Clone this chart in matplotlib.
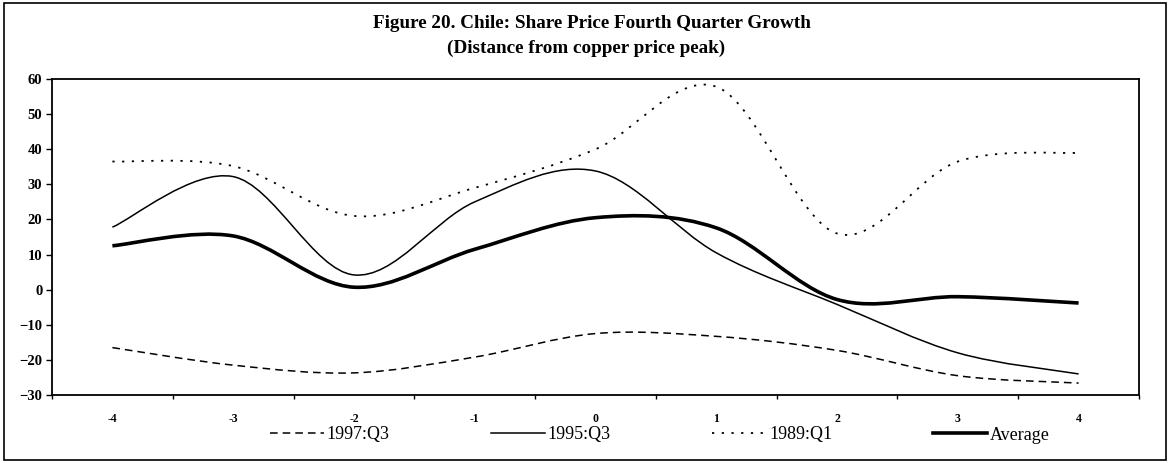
import numpy as np
import matplotlib
matplotlib.use("Agg")
import matplotlib.pyplot as plt
from matplotlib.path import Path
from matplotlib.patches import PathPatch, Rectangle
from matplotlib.lines import Line2D

plt.rcParams['font.family'] = ['Liberation Serif', 'DejaVu Serif']
plt.rcParams['lines.scale_dashes'] = False

# quarters from the copper price peak
quarters = [-4, -3, -2, -1, 0, 1, 2, 3, 4]

# share price fourth quarter growth (%)
q1997_3 = [-16.5, -21.5, -23.7, -19.2, -12.5, -13.3, -17.3, -24.5, -26.6]
q1995_3 = [17.8, 32.2, 4.2, 25.0, 33.8, 10.5, -4.2, -18.0, -24.0]
q1989_1 = [36.5, 35.2, 21.0, 29.0, 40.0, 57.8, 16.0, 36.5, 39.0]
average = [12.5, 15.3, 0.7, 11.5, 20.5, 17.6, -2.8, -2.0, -3.8]

labels = ['1997:Q3', '1995:Q3', '1989:Q1', 'Average']


def smooth_path(x, y):
    # Bezier segments like a spreadsheet "smoothed line"
    x = np.asarray(x, float)
    y = np.asarray(y, float)
    n = len(x)
    verts = [(x[0], y[0])]
    codes = [Path.MOVETO]
    for i in range(n - 1):
        i0 = max(i - 1, 0)
        i3 = min(i + 2, n - 1)
        c1 = (x[i] + (x[i + 1] - x[i0]) / 6, y[i] + (y[i + 1] - y[i0]) / 6)
        c2 = (x[i + 1] - (x[i3] - x[i]) / 6, y[i + 1] - (y[i3] - y[i]) / 6)
        verts += [c1, c2, (x[i + 1], y[i + 1])]
        codes += [Path.CURVE4] * 3
    return Path(verts, codes)


fig = plt.figure(figsize=(11.72, 4.63), dpi=100)
W, H = 1172, 463
ax = fig.add_axes([52 / W, 1 - 395 / H, (1139 - 52) / W, (395 - 79) / H])

styles = [
    dict(lw=1.1, ls=(0, (5.5, 3.6))),
    dict(lw=1.1, ls='-'),
    dict(lw=1.3, ls=(0, (1.6, 5.4))),
    dict(lw=2.6, ls='-'),
]
series = [q1997_3, q1995_3, q1989_1, average]

handles = []
for vals, st, lab in zip(series, styles, labels):
    patch = PathPatch(smooth_path(quarters, vals), fill=False, edgecolor='black',
                      linewidth=st['lw'], linestyle=st['ls'], capstyle='butt')
    ax.add_patch(patch)
    handles.append(Line2D([], [], color='black', lw=st['lw'], ls=st['ls']))

ax.set_xlim(-4.5, 4.5)
ax.set_ylim(-30, 60)
ax.set_yticks(range(-30, 61, 10))
ax.set_xticks(np.arange(-4.5, 4.6, 1))
ax.set_xticklabels([])
ax.set_xticks(quarters, minor=True)
ax.set_xticklabels([str(q) for q in quarters], minor=True)

ax.tick_params(axis='x', which='major', direction='out', length=3, width=1)
ax.tick_params(axis='x', which='minor', length=0, pad=13, labelsize=8.5)
ax.tick_params(axis='y', direction='out', length=4, width=1, pad=3, labelsize=10.5)
for t in ax.get_yticklabels() + ax.get_xticklabels(minor=True):
    t.set_fontweight('bold')
for sp in ax.spines.values():
    sp.set_linewidth(1.3)

fig.text(592 / W, 1 - 23 / H, 'Figure 20. Chile: Share Price Fourth Quarter Growth',
         ha='center', va='center', fontsize=13.8, fontweight='bold')
fig.text(586 / W, 1 - 48 / H, '(Distance from copper price peak)',
         ha='center', va='center', fontsize=13.8, fontweight='bold')

fig.legend(handles, labels, loc='center left', bbox_to_anchor=(270 / W, 1 - 435 / H),
           ncol=4, frameon=False, fontsize=13, handlelength=3.0, handletextpad=0.15,
           columnspacing=5.6, borderpad=0, borderaxespad=0)

fig.add_artist(Rectangle((4 / W, 3 / H), (1166 - 4) / W, (460 - 3) / H,
                         transform=fig.transFigure, fill=False, lw=1.2, ec='black'))

fig.savefig('out.png', dpi=100)
